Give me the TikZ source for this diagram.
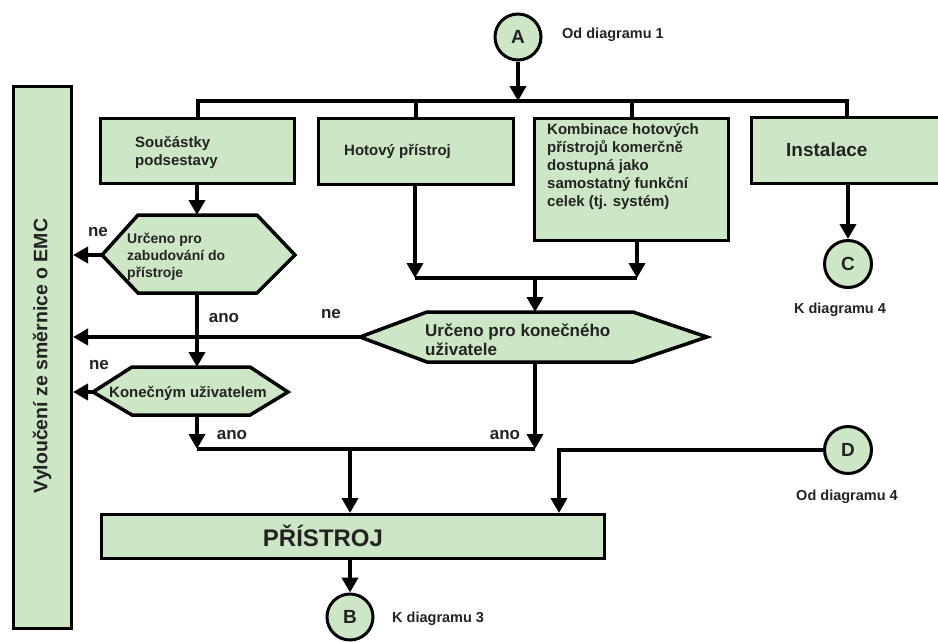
\documentclass[tikz,border=0pt]{standalone}
\usepackage{fontspec}
\setmainfont{Liberation Sans}
\usetikzlibrary{arrows.meta}
\definecolor{boxgreen}{RGB}{205,230,197}
\definecolor{txt}{RGB}{35,35,35}
\begin{document}
\begin{tikzpicture}[x=1pt,y=-1pt,
  box/.style={draw=black, line width=3pt, fill=boxgreen, inner sep=0pt, anchor=north west},
  hexa/.style={draw=black, line width=3.5pt, fill=boxgreen, line join=miter},
  circ/.style={circle, draw=black, line width=3pt, fill=boxgreen, minimum size=46pt, inner sep=0pt, text=txt, font=\bfseries\fontsize{19}{22}\selectfont},
  conn/.style={draw=black, line width=4pt},
  arr/.style={conn, -{Triangle[width=16pt,length=15pt]}},
  txtn/.style={inner sep=0pt, text=txt, align=left, font=\bfseries\fontsize{15}{18}\selectfont},
  small/.style={inner sep=0pt, text=txt, font=\bfseries\fontsize{14.5}{17}\selectfont},
  yn/.style={inner sep=0pt, text=txt, font=\bfseries\fontsize{17}{20}\selectfont}
]
\useasboundingbox (0,0) rectangle (938,641);

% left tall box
\node[box, minimum width=58pt, minimum height=542pt] (excl) at (12,85) {};
\node[inner sep=0pt, text=txt, rotate=90, font=\bfseries\fontsize{19.5}{22}\selectfont] (excltxt) at (42,356) {Vyloučení ze směrnice o EMC};

% connector A
\node[circ] (A) at (518,37) {A};
\node[small, anchor=west] (Alab) at (562,35) {Od diagramu 1};

% top boxes
\node[box, minimum width=194pt, minimum height=65pt] (sou) at (99,117) {};
\node[txtn, anchor=west] (soutxt) at (135,152) {Součástky\\podsestavy};
\node[box, minimum width=195pt, minimum height=66pt] (hot) at (317,117) {};
\node[txtn, anchor=west] (hottxt) at (344,151) {Hotový přístroj};
\node[box, minimum width=194pt, minimum height=122pt] (komb) at (533,117) {};
\node[txtn, anchor=north west] (kombtxt) at (547,123) {Kombinace hotových\\přístrojů komerčně\\dostupná jako\\samostatný funkční\\celek (tj. systém)};
\node[box, minimum width=194pt, minimum height=66pt] (inst) at (750,116) {};
\node[inner sep=0pt, text=txt, anchor=west, font=\bfseries\fontsize{19}{22}\selectfont] (insttxt) at (786,150) {Instalace};

% bus
\coordinate (busA) at (518,101);
\draw[arr] (A.south) -- (busA);
\draw[conn] (sou.north) |- (busA) -| (inst.north -| 847,0);
\draw[conn] (hot.north) -- (hot.north |- busA);
\draw[conn] (komb.north) -- (komb.north |- busA);

% C
\node[circ, minimum size=47pt] (C) at (848,264) {C};
\node[small] (Clab) at (840,310) {K diagramu 4};
\draw[arr] (inst.south -| C.north) -- (C.north);

% hexagon 1
\coordinate (h1w) at (102,255);
\coordinate (h1n) at (197,215);
\coordinate (h1s) at (197,293);
\filldraw[hexa] (h1w) -- (138,215) -- (257,215) -- (295,255) -- (257,293) -- (138,293) -- cycle;
\node[inner sep=0pt, text=txt, align=left, anchor=west, font=\bfseries\fontsize{14}{17}\selectfont] (h1txt) at (127,257) {Určeno pro\\zabudování do\\přístroje};
\draw[arr] (sou.south -| h1n) -- (h1n);
\draw[arr] (h1w) -- (h1w -| excl.east);
\node[yn] (ne1) at (98,232) {ne};

% hexagon 2
\coordinate (h2w) at (93,392);
\coordinate (h2n) at (197,367);
\coordinate (h2s) at (197,415);
\filldraw[hexa] (h2w) -- (132,367) -- (250,367) -- (288,392) -- (250,415) -- (132,415) -- cycle;
\node[inner sep=0pt, text=txt, font=\bfseries\fontsize{15}{18}\selectfont] (h2txt) at (188,393) {Konečným uživatelem};
\draw[arr] (h1s) -- (h2n);
\node[yn] (ano1) at (224,318) {ano};
\draw[arr] (h2w) -- (h2w -| excl.east);
\node[yn] (ne2) at (99,365) {ne};

% merge of Hotový and Kombinace
\coordinate (m1l) at (415,278);
\coordinate (m1r) at (637,278);
\coordinate (m1c) at (535,278);
\draw[arr] (hot.south -| m1l) -- (m1l);
\draw[arr] (komb.south -| m1r) -- (m1r);
\draw[conn] (m1l) -- (m1r);

% hexagon 3
\coordinate (h3w) at (360,337);
\coordinate (h3n) at (535,312);
\coordinate (h3s) at (535,362);
\filldraw[hexa] (h3w) -- (427,312) -- (633,312) -- (707,337) -- (633,362) -- (427,362) -- cycle;
\node[inner sep=0pt, text=txt, align=left, anchor=west, font=\bfseries\fontsize{17}{19}\selectfont] (h3txt) at (425,340) {Určeno pro konečného\\uživatele};
\draw[arr] (m1c) -- (h3n);
\draw[arr] (h3w) -- (h3w -| excl.east);
\node[yn] (ne3) at (331,314) {ne};

% lower merge
\coordinate (m2l) at (197,449);
\coordinate (m2r) at (535,449);
\coordinate (m2c) at (350,449);
\draw[arr] (h2s) -- (m2l);
\draw[arr] (h3s) -- (m2r);
\draw[conn] (m2l) -- (m2r);
\node[yn] (ano2) at (232,435) {ano};
\node[yn] (ano3) at (505,435) {ano};

% PŘÍSTROJ
\node[box, minimum width=503pt, minimum height=44pt] (pri) at (100,513) {};
\node[inner sep=0pt, text=txt, font=\bfseries\fontsize{24}{28}\selectfont] (pritxt) at (323,536) {PŘÍSTROJ};
\draw[arr] (m2c) -- (pri.north -| m2c);

% D
\node[circ, minimum size=47pt] (D) at (848,450) {D};
\node[small] (Dlab) at (847,497) {Od diagramu 4};
\coordinate (dk) at (559,450);
\draw[arr] (D.west) -- (dk) -- (pri.north -| dk);

% B
\node[circ] (B) at (350,617) {B};
\node[small, anchor=west] (Blab) at (392,619) {K diagramu 3};
\draw[arr] (pri.south -| B.north) -- (B.north);
\end{tikzpicture}
\end{document}
